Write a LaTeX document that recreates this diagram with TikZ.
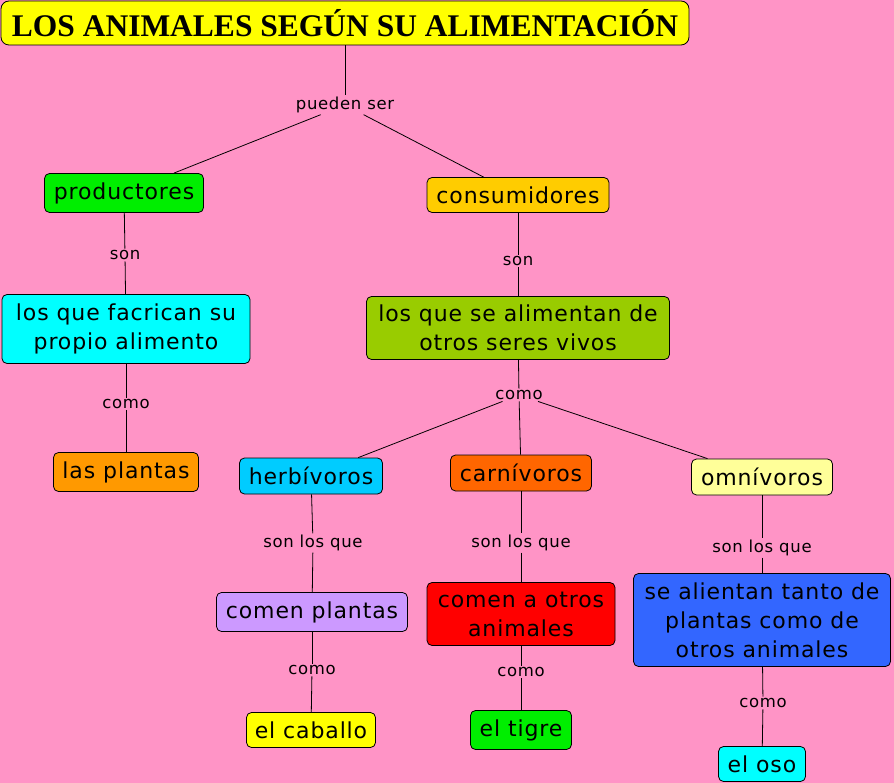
\documentclass[tikz,border=0pt]{standalone}
\usepackage{fontspec}
\setmainfont{DejaVu Sans}
\newfontfamily\boxfont[LetterSpace=4]{DejaVu Sans}
\newfontfamily\titlefont{Liberation Serif}
\definecolor{bgpink}{HTML}{FF94C6}
\definecolor{cTitle}{HTML}{FFFF00}
\definecolor{cProd}{HTML}{00EE00}
\definecolor{cCons}{HTML}{FFCC00}
\definecolor{cFab}{HTML}{00FFFF}
\definecolor{cAlim}{HTML}{99CC00}
\definecolor{cPlant}{HTML}{FF9900}
\definecolor{cHerb}{HTML}{00CCFF}
\definecolor{cCarn}{HTML}{FF6600}
\definecolor{cOmni}{HTML}{FFFF99}
\definecolor{cComP}{HTML}{CC99FF}
\definecolor{cComA}{HTML}{FF0000}
\definecolor{cAlie}{HTML}{3366FF}
\definecolor{cCab}{HTML}{FFFF00}
\definecolor{cTig}{HTML}{00EE00}
\definecolor{cOso}{HTML}{00FFFF}
\begin{document}
\begin{tikzpicture}[x=1pt,y=-1pt,
  box/.style={draw=black, line width=0.8pt, rounded corners=5, inner sep=2pt, align=center,
    font=\fontsize{22}{29}\selectfont\boxfont},
  lbl/.style={inner sep=1.5pt, font=\fontsize{16.5}{19}\selectfont\boxfont},
  conn/.style={draw=black, line width=0.8pt}]
\fill[bgpink] (0,0) rectangle (894,783);
\useasboundingbox (0,0) rectangle (894,783);

\node[draw=black, line width=0.8pt, rounded corners=8, fill=cTitle, minimum width=688, minimum height=44,
  font=\fontsize{31.5}{38}\selectfont\titlefont\bfseries] (title) at (345,23) {LOS ANIMALES SEGÚN SU ALIMENTACIÓN};

\node[box, fill=cProd, minimum width=159, minimum height=39] (prod) at (124,193) {productores};
\node[box, fill=cCons, minimum width=182, minimum height=35] (cons) at (518,195) {consumidores};
\node[box, fill=cFab, minimum width=248, minimum height=69] (fab) at (126,329) {los que facrican su\\propio alimento};
\node[box, fill=cAlim, minimum width=303, minimum height=63] (alim) at (518,328) {los que se alimentan de\\otros seres vivos};
\node[box, fill=cPlant, minimum width=145, minimum height=39] (plant) at (126,472) {las plantas};
\node[box, fill=cHerb, minimum width=143, minimum height=36] (herb) at (311,476) {herbívoros};
\node[box, fill=cCarn, minimum width=141, minimum height=36] (carn) at (521,473) {carnívoros};
\node[box, fill=cOmni, minimum width=141, minimum height=36] (omni) at (762,477) {omnívoros};
\node[box, fill=cComP, minimum width=191, minimum height=39] (comp) at (312,612) {comen plantas};
\node[box, fill=cComA, minimum width=188, minimum height=63] (coma) at (521,614) {comen a otros\\animales};
\node[box, fill=cAlie, minimum width=257, minimum height=93] (alie) at (762,620) {se alientan tanto de\\plantas como de\\otros animales};
\node[box, fill=cCab, minimum width=129, minimum height=35] (cab) at (311,730) {el caballo};
\node[box, fill=cTig, minimum width=101, minimum height=39] (tig) at (521,730) {el tigre};
\node[box, fill=cOso, minimum width=87, minimum height=35] (oso) at (762,764) {el oso};

\node[lbl] (l1) at (345,105) {pueden ser};
\node[lbl] (l2) at (125,255) {son};
\node[lbl] (l3) at (518,261) {son};
\node[lbl] (l4) at (126,404) {como};
\node[lbl] (l5) at (519,395) {como};
\node[lbl] (l6) at (313,543) {son los que};
\node[lbl] (l7) at (521,543) {son los que};
\node[lbl] (l8) at (762,548) {son los que};
\node[lbl] (l9) at (312,670) {como};
\node[lbl] (l10) at (521,672) {como};
\node[lbl] (l11) at (763,703) {como};

\draw[conn] (title) -- (l1);
\draw[conn] (l1) -- (prod);
\draw[conn] (l1) -- (cons);
\draw[conn] (prod) -- (l2);
\draw[conn] (l2) -- (fab);
\draw[conn] (cons) -- (l3);
\draw[conn] (l3) -- (alim);
\draw[conn] (fab) -- (l4);
\draw[conn] (l4) -- (plant);
\draw[conn] (alim) -- (l5);
\draw[conn] (l5) -- (herb);
\draw[conn] (l5) -- (carn);
\draw[conn] (l5) -- (omni);
\draw[conn] (herb) -- (l6);
\draw[conn] (l6) -- (comp);
\draw[conn] (carn) -- (l7);
\draw[conn] (l7) -- (coma);
\draw[conn] (omni) -- (l8);
\draw[conn] (l8) -- (alie);
\draw[conn] (comp) -- (l9);
\draw[conn] (l9) -- (cab);
\draw[conn] (coma) -- (l10);
\draw[conn] (l10) -- (tig);
\draw[conn] (alie) -- (l11);
\draw[conn] (l11) -- (oso);
\end{tikzpicture}
\end{document}
